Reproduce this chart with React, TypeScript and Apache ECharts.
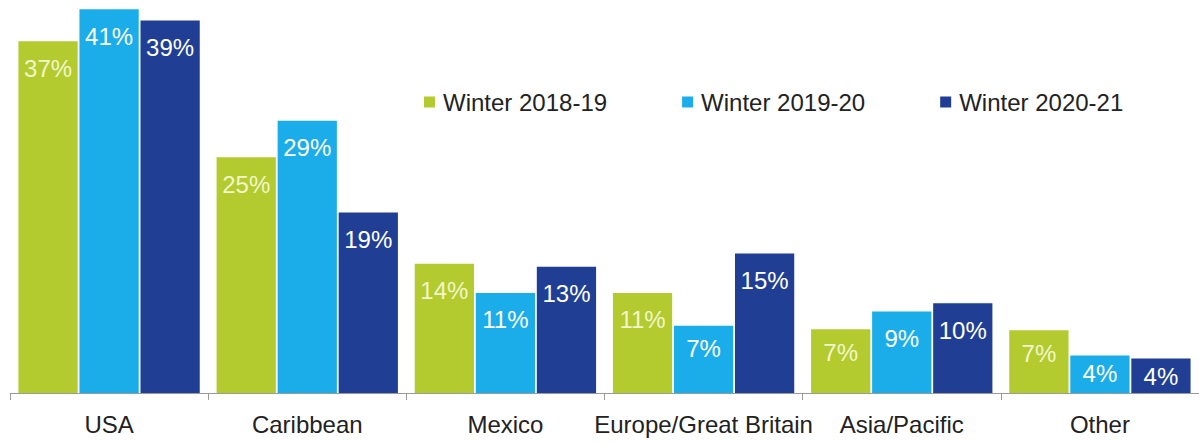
import React, { useEffect, useRef } from "react";
import * as echarts from "echarts";

const categories = ["USA", "Caribbean", "Mexico", "Europe/Great Britain", "Asia/Pacific", "Other"];
const seriesNames = ["Winter 2018-19", "Winter 2019-20", "Winter 2020-21"];
// bar heights (percent)
const winter1819 = [37.6, 25.2, 13.8, 10.7, 6.8, 6.7];
const winter1920 = [41.0, 29.1, 10.7, 7.2, 8.7, 4.0];
const winter2021 = [39.8, 19.3, 13.5, 14.9, 9.6, 3.7];
// printed labels (percent)
const labels1819 = [37, 25, 14, 11, 7, 7];
const labels1920 = [41, 29, 11, 7, 9, 4];
const labels2021 = [39, 19, 13, 15, 10, 4];

const colors = ["#b3cb2e", "#1badea", "#203f94"];
const labelColors = ["#f2f6cc", "#ffffff", "#ffffff"];

export default function App() {
  const ref = useRef<HTMLDivElement>(null);
  useEffect(() => {
    if (!ref.current) return;
    const chart = echarts.init(ref.current, null, { renderer: "svg" });
    const values = [winter1819, winter1920, winter2021];
    const labels = [labels1819, labels1920, labels2021];
    chart.setOption({
      animation: false,
      textStyle: { fontFamily: "Liberation Sans, Arial, sans-serif" },
      legend: {
        left: 424,
        top: 90,
        padding: 0,
        icon: "rect",
        itemWidth: 11,
        itemHeight: 11,
        itemGap: 75,
        textStyle: { fontSize: 24, color: "#222", padding: [0, 0, 0, 3] },
        data: seriesNames,
      },
      grid: { left: 10, right: -4, top: 0, bottom: 50, containLabel: false },
      xAxis: {
        type: "category",
        data: categories,
        axisLine: { lineStyle: { color: "#9a9a9a", width: 1 } },
        axisTick: { show: true, length: 7, lineStyle: { color: "#9a9a9a" } },
        axisLabel: { fontSize: 24, color: "#222", margin: 19, interval: 0 },
      },
      yAxis: { type: "value", min: 0, max: 42, show: false, splitLine: { show: false } },
      series: seriesNames.map((name, i) => ({
        name,
        type: "bar",
        data: values[i].map((v) => ({
          value: v,
          label: { distance: v < 5 ? 6 : v < 8 ? 11 : 15 },
        })),
        barGap: "3%",
        barCategoryGap: "8.5%",
        itemStyle: { color: colors[i] },
        label: {
          show: true,
          position: "insideTop",
          distance: 15,
          fontSize: 24,
          color: labelColors[i],
          formatter: (p: any) => labels[i][p.dataIndex] + "%",
        },
      })),
    });
    return () => chart.dispose();
  }, []);
  return (
    <div
      ref={ref}
      style={{ position: "fixed", left: 0, top: 0, width: 1199, height: 443, background: "#fff" }}
    />
  );
}
